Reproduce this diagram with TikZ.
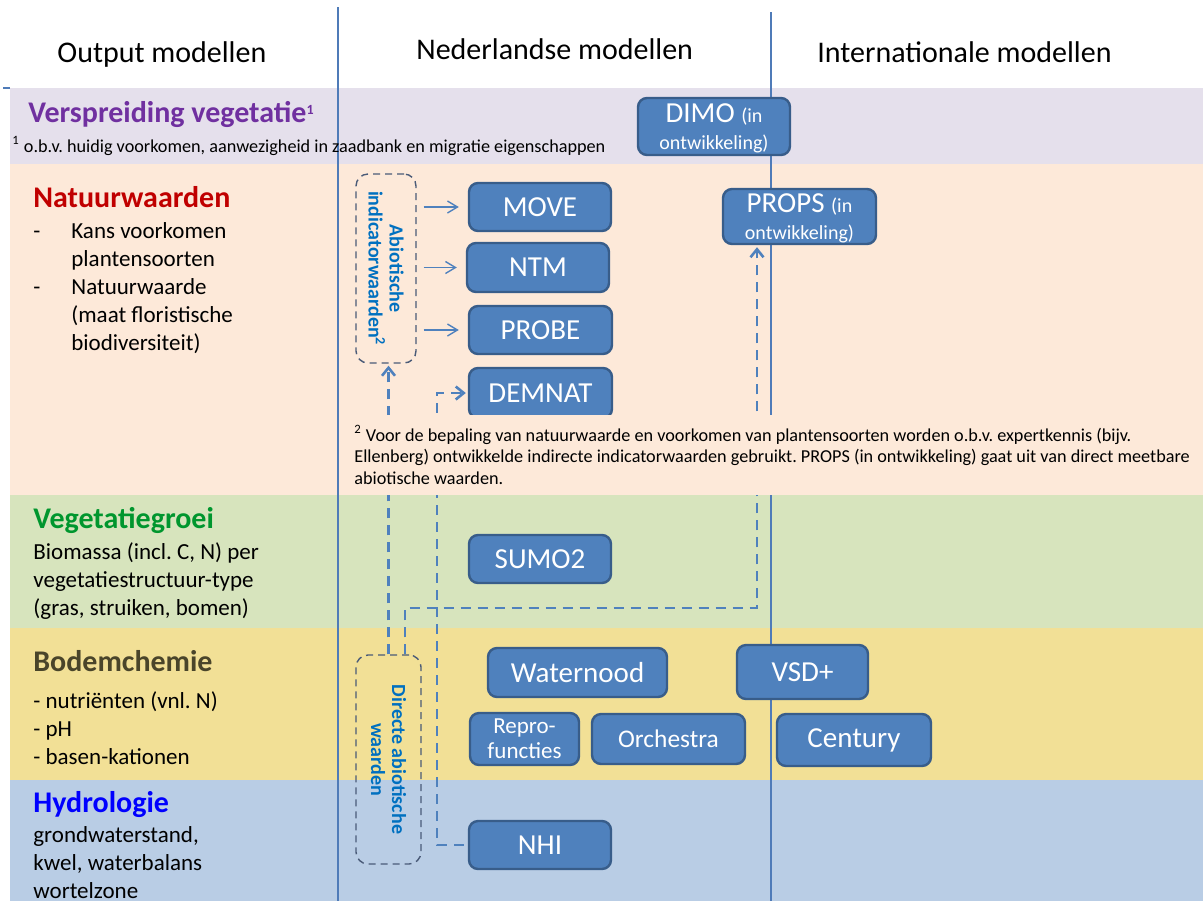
\documentclass[tikz,border=0pt]{standalone}
\usepackage{fontspec}
\setmainfont{Carlito}
\usetikzlibrary{arrows.meta,calc}
\frenchspacing

\definecolor{bandlila}{HTML}{E5E0EC}
\definecolor{bandperzik}{HTML}{FDE9D9}
\definecolor{bandgroen}{HTML}{D7E4BD}
\definecolor{bandgeel}{HTML}{F2E096}
\definecolor{bandblauw}{HTML}{B9CDE5}
\definecolor{modelblauw}{HTML}{4F81BD}
\definecolor{modelrand}{HTML}{385D8A}
\definecolor{kaderrand}{HTML}{4A5B78}
\definecolor{kadertekst}{HTML}{0070C0}
\definecolor{kolomlijn}{HTML}{4F7BB8}
\definecolor{titelpaars}{HTML}{7030A0}
\definecolor{titelrood}{HTML}{C00000}
\definecolor{titelgroen}{HTML}{00962E}
\definecolor{titelbruin}{HTML}{4A452A}
\definecolor{titelblauw}{HTML}{0000FF}

\tikzset{
	model/.style={draw=modelrand, line width=1.2pt, fill=modelblauw, rounded corners=4.5pt,
		text=white, align=center, inner sep=1pt, font=\fontsize{14.5}{13.5}\selectfont},
	kader/.style={draw=kaderrand, dash pattern=on 3.5pt off 2.5pt, line width=0.7pt, rounded corners=6pt},
	kadertxt/.style={text=kadertekst, font=\bfseries\fontsize{10}{10.5}\selectfont, rotate=-90, align=center},
	conn/.style={modelblauw, line width=1.3pt, dash pattern=on 5pt off 3.5pt,
		-{Straight Barb[length=4pt,width=6.5pt]}},
	feed/.style={modelblauw, line width=0.7pt, -{Straight Barb[length=5pt,width=6pt]}},
	kop/.style={anchor=base west, inner sep=0pt, font=\fontsize{15}{18}\selectfont},
	titel/.style={anchor=base west, inner sep=0pt, font=\bfseries\fontsize{15}{18}\selectfont},
	tekst/.style={anchor=base west, inner sep=0pt, align=left, font=\fontsize{11.5}{14}\selectfont},
	voet/.style={anchor=base west, inner sep=0pt, align=left, font=\fontsize{9.1}{10.75}\selectfont}
}

\begin{document}
\begin{tikzpicture}[x=0.5pt,y=-0.5pt]
	\useasboundingbox (0,0) rectangle (1203,901);
	
	\fill[bandlila] (10,88) rectangle (1203,164);
	\fill[bandperzik] (10,164) rectangle (1203,495);
	\fill[bandgroen] (10,495) rectangle (1203,628);
	\fill[bandgeel] (10,628) rectangle (1203,780);
	\fill[bandblauw] (10,780) rectangle (1203,901);
	
	\draw[kolomlijn, line width=0.6pt] (338,7) -- (338,901);
	\draw[kolomlijn, line width=0.6pt] (771,12) -- (771,901);
	\draw[kolomlijn, line width=0.8pt] (3,88) -- (10,88);
	
	\node[kop] (kopout) at (57,62) {Output modellen};
	\node[kop] (kopnl) at (416,59) {Nederlandse modellen};
	\node[kop] (kopint) at (817,62) {Internationale modellen};
	
	\node[model, minimum width=76pt, minimum height=28.5pt, text depth=0pt] (dimo) at (714,126.5)
		{DIMO {\fontsize{10}{13}\selectfont (in}\\{\fontsize{10}{13}\selectfont ontwikkeling)}};
	\node[model, minimum width=71pt, minimum height=24pt] (move) at (540,207) {MOVE};
	\node[model, minimum width=71pt, minimum height=24.5pt] (ntm) at (538,267.5) {NTM};
	\node[model, minimum width=71.5pt, minimum height=24pt] (probe) at (540.5,330) {PROBE};
	\node[model, minimum width=71.5pt, minimum height=25pt] (demnat) at (540.5,393) {DEMNAT};
	\node[model, minimum width=76.5pt, minimum height=27.5pt, text depth=0pt] (props) at (799.5,216.5)
		{PROPS {\fontsize{10}{13}\selectfont (in}\\{\fontsize{10}{13}\selectfont ontwikkeling)}};
	\node[model, minimum width=71pt, minimum height=24pt] (sumo) at (540,559) {SUMO2};
	\node[model, minimum width=89.5pt, minimum height=24.5pt] (waternood) at (577.5,672.5) {Waternood};
	\node[model, minimum width=65.5pt, minimum height=27pt] (vsd) at (802.5,672) {VSD+};
	\node[model, minimum width=54.5pt, minimum height=26pt, font=\fontsize{11.5}{12.5}\selectfont]
		(repro) at (524.5,739) {Repro-\\functies};
	\node[model, minimum width=76.5pt, minimum height=25pt, font=\fontsize{12.7}{14}\selectfont]
		(orchestra) at (668.5,739) {Orchestra};
	\node[model, minimum width=77pt, minimum height=26pt] (century) at (854,740) {Century};
	\node[model, minimum width=71pt, minimum height=24pt] (nhi) at (540,845) {NHI};
	
	\node[kader, minimum width=30pt, minimum height=94.5pt] (abio) at (386,268.5) {};
	\node[kadertxt] (abiotxt) at (abio.center) {Abiotische\\indicatorwaarden\textsuperscript{2}};
	\node[kader, minimum width=32.5pt, minimum height=104.5pt] (dir) at (388.5,759.5) {};
	\node[kadertxt] (dirtxt) at (dir.center) {Directe abiotische\\waarden};
	
	\foreach \doel in {move,ntm,probe}{
		\draw[feed, shorten <=3.5pt, shorten >=4.5pt] (abio.east |- \doel.west) -- (\doel.west);}
	
	\coordinate (hoekprops) at (757,608);
	\coordinate (hoeknhi) at (437,845);
	\draw[conn, shorten >=1pt] (dir.north) -- (dir.north |- abio.south);
	\draw[conn, shorten >=1pt] ([xshift=8.25pt]dir.north) |- (hoekprops) -- (hoekprops |- props.south);
	\draw[conn, shorten <=2pt, shorten >=1pt] (nhi.west) -- (hoeknhi) |- (demnat.west);
	
	\fill[bandperzik] (350,415) rectangle (1203,495);
	\node[voet] (voet2) at (354,484) {\textsuperscript{2} Voor de bepaling van natuurwaarde en voorkomen van plantensoorten worden o.b.v. expertkennis (bijv.\\Ellenberg) ontwikkelde indirecte indicatorwaarden gebruikt. PROPS (in ontwikkeling) gaat uit van direct meetbare\\abiotische waarden.};
	
	\node[titel, text=titelpaars] (versp) at (28,122) {Verspreiding vegetatie{\fontsize{10}{12}\selectfont\textsuperscript{1}}};
	\node[voet] (voet1) at (12,152) {\textsuperscript{1} o.b.v. huidig voorkomen, aanwezigheid in zaadbank en migratie eigenschappen};
	
	\node[titel, text=titelrood] (natuur) at (33,207) {Natuurwaarden};
	\node[tekst] (streep1) at (33,238) {-};
	\node[tekst] (streep2) at (33,294) {-};
	\node[tekst] (natuurtxt) at (71,350) {Kans voorkomen\\plantensoorten\\Natuurwaarde\\(maat floristische\\biodiversiteit)};
	
	\node[titel, text=titelgroen] (groei) at (33,528) {Vegetatiegroei};
	\node[tekst] (groeitxt) at (33,615) {Biomassa (incl. C, N) per\\vegetatiestructuur-type\\(gras, struiken, bomen)};
	
	\node[titel, text=titelbruin] (bodem) at (33,671) {Bodemchemie};
	\node[tekst] (bodemtxt) at (33,764) {- nutriënten (vnl. N)\\- pH\\- basen-kationen};
	
	\node[titel, text=titelblauw] (hydro) at (33,812) {Hydrologie};
	\node[tekst] (hydrotxt) at (33,898) {grondwaterstand,\\kwel, waterbalans\\wortelzone};
\end{tikzpicture}
\end{document}
